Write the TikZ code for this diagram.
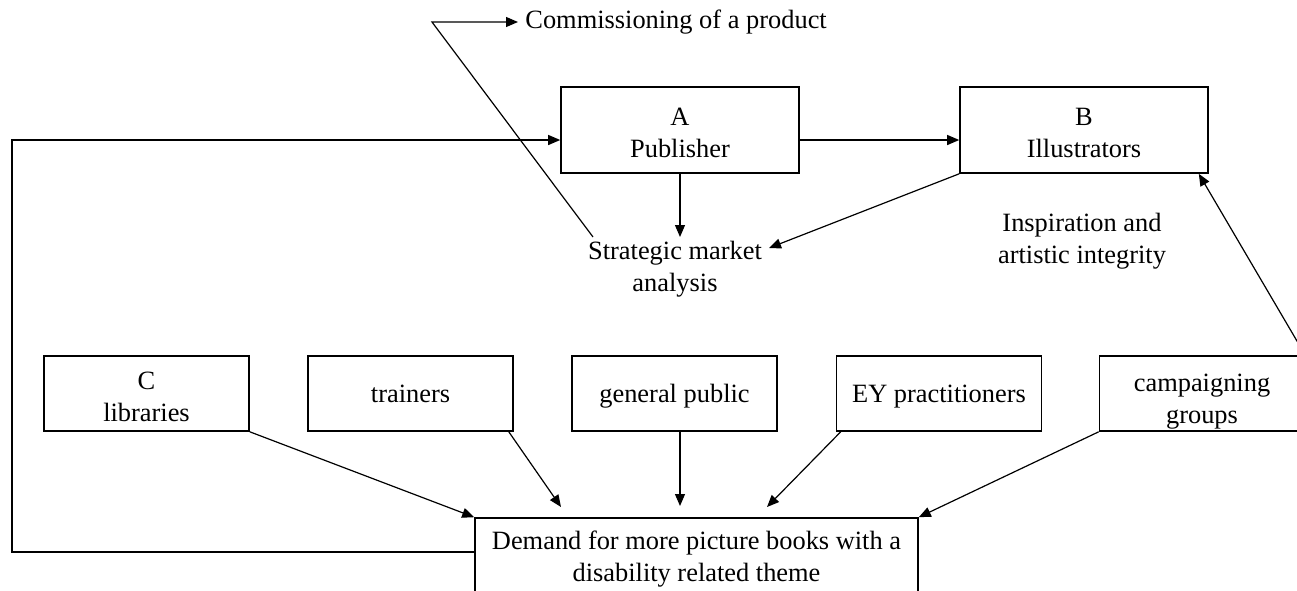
\documentclass[tikz,border=0pt]{standalone}
\usepackage{fontspec}
\setmainfont{Liberation Serif}
\usetikzlibrary{arrows.meta,calc}
\newcommand\liftby[1]{\rule{0pt}{#1}}
\begin{document}
\begin{tikzpicture}[x=0.5pt,y=-0.5pt,
  font=\fontsize{13.2}{16}\selectfont,
  box/.style={draw,line width=0.8pt,align=center,minimum width=102.5pt,minimum height=37.5pt,inner sep=0pt},
  onebox/.style={box,text depth=0pt},
  topbox/.style={box,minimum height=43pt},
  lbl/.style={align=center,inner sep=0pt},
  conn/.style={line width=0.6pt},
  arr/.style={conn,-{Triangle[length=6pt,width=5pt]}}]
\useasboundingbox (0,0) rectangle (1297,590);
\clip (0,0) rectangle (1297,590);
% top boxes
\node[topbox,minimum width=119pt] (A) at (680,130) {\liftby{11.8pt}A\\Publisher};
\node[topbox,minimum width=124pt] (B) at (1084,130) {\liftby{11.8pt}B\\Illustrators};
% labels
\node[lbl] (strat) at (675,269) {Strategic market\\analysis};
\node[lbl] (insp) at (1082,241.5) {Inspiration and\\artistic integrity};
\node[lbl,anchor=west,inner xsep=3.5pt] (comm) at (518,22) {Commissioning of a product};
% bottom row
\node[box] (lib) at (146.5,393.5) {\liftby{12.3pt}C\\libraries};
\node[onebox] (train) at (410.5,393.5) {trainers};
\node[onebox] (gen) at (674.5,393.5) {general public};
\node[onebox] (ey) at (939,393.5) {EY practitioners};
\node[box] (camp) at (1202,393.5) {\liftby{16.5pt}campaigning\\groups};
% demand
\node[box,minimum width=221.5pt,minimum height=41pt] (dem) at (696.5,559) {Demand for more picture books with a\\disability related theme};
% free ends
\coordinate (stratTop) at (680,237);
\coordinate (stratR) at (769,248);
\coordinate (comStart) at (593,237);
\coordinate (comCorner) at (432,22);
\coordinate (fb) at (12,300);
\coordinate (tTrain) at (561,507);
\coordinate (tGen) at (680,506);
\coordinate (tEy) at (767,507);
% connectors
\draw[arr] ([yshift=-5pt]A.east) -- ([yshift=-5pt]B.west);
\draw[arr] ([yshift=3.5pt]dem.west) -| (fb) |- ([yshift=-5pt]A.west);
\draw[arr] (A.south) -- (stratTop);
\draw[arr] (B.south west) -- (stratR);
\draw[arr] (comStart) -- (comCorner) -- (comm.west);
\draw[arr] (lib.south east) -- (dem.north west);
\draw[arr] ([xshift=-2.5pt]train.south east) -- (tTrain);
\draw[arr] ([xshift=2.75pt]gen.south) -- (tGen);
\draw[arr] ([xshift=2.5pt]ey.south west) -- (tEy);
\draw[arr] (camp.south west) -- (dem.north east);
\draw[arr] (camp.north east) -- ([xshift=-5pt]B.south east);
\end{tikzpicture}
\end{document}
